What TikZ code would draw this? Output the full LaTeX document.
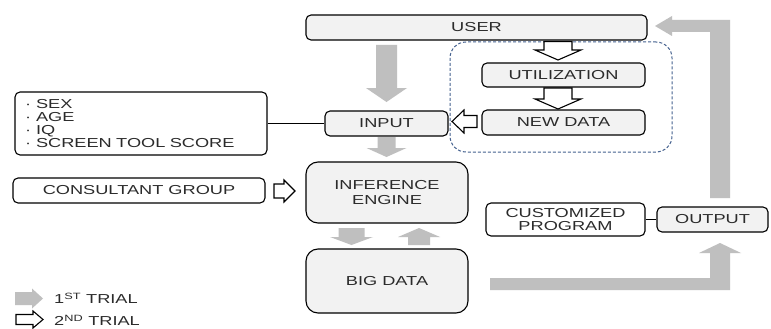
\documentclass[tikz,border=0pt]{standalone}
\usepackage{fontspec}
\setmainfont{Liberation Sans}[FakeStretch=1.4]
\usetikzlibrary{calc}
\definecolor{boxfill}{HTML}{F2F2F2}
\definecolor{arrowgray}{HTML}{BFBFBF}
\definecolor{txt}{HTML}{2B2B2B}
\definecolor{grpblue}{HTML}{45618F}
% #1 style, #2 tail centre, #3 rotation, #4 length, #5 shaft width, #6 head width, #7 head length
\newcommand\blockarrow[7]{%
  \draw[#1,shift={(#2)},rotate=#3] (0,-#5/2) -- (#4-#7,-#5/2) -- (#4-#7,-#6/2) -- (#4,0)
    -- (#4-#7,#6/2) -- (#4-#7,#5/2) -- (0,#5/2) -- cycle;}
\newcommand\bul{·\hspace{5pt}}
\tikzset{
  box/.style={draw=black, line width=1.1pt, rounded corners=5pt, fill=boxfill, text=txt,
    font=\fontsize{13}{14.5}\selectfont, inner sep=0pt, align=center},
  wbox/.style={box, fill=white},
  bigbox/.style={box, rounded corners=12pt},
  garrow/.style={fill=arrowgray, draw=none},
  harrow/.style={fill=white, draw=black, line width=1.1pt, line join=miter},
  grp/.style={draw=grpblue, dash pattern=on 3pt off 2pt, line width=1pt, rounded corners=16pt, fill=none},
  link/.style={draw=black, line width=1.1pt},
  legendtext/.style={text=txt, font=\fontsize{13}{14.5}\selectfont, inner sep=0pt, anchor=west},
}
\begin{document}
\begin{tikzpicture}[x=1pt,y=-1pt]
\useasboundingbox (0,0) rectangle (771,329);
\fill[white] (0,0) rectangle (771,329);

% group region
\node[grp, minimum width=222pt, minimum height=110pt] (group) at (561,97) {};

% boxes
\node[box, minimum width=341pt, minimum height=25pt] (user) at (476.5,27.5) {USER};
\node[box, minimum width=123pt, minimum height=25pt] (input) at (386.5,123.5) {INPUT};
\node[box, minimum width=163pt, minimum height=24pt] (util) at (563.5,75) {UTILIZATION};
\node[box, minimum width=163pt, minimum height=25pt] (newdata) at (563.5,122.5) {NEW DATA};
\node[wbox, minimum width=252pt, minimum height=63pt, align=left, text width=232pt,
      inner xsep=10pt, font=\fontsize{13}{13}\selectfont] (list) at (141,123.5)
  {\bul SEX\\\bul AGE\\\bul IQ\\\bul SCREEN TOOL SCORE};
\node[wbox, minimum width=252pt, minimum height=25pt] (consult) at (139,190.5) {CONSULTANT GROUP};
\node[bigbox, minimum width=162pt, minimum height=61pt, font=\fontsize{13}{15}\selectfont] (infer) at (387,192.5) {INFERENCE\\ENGINE};
\node[bigbox, minimum width=162pt, minimum height=64pt] (bigdata) at (387,281) {BIG DATA};
\node[wbox, minimum width=159pt, minimum height=33pt, font=\fontsize{13}{13.5}\selectfont] (custom) at (565.5,219.5) {CUSTOMIZED\\PROGRAM};
\node[box, minimum width=111pt, minimum height=25pt] (output) at (712.5,219.5) {OUTPUT};

% plain links
\draw[link] (list.east) -- (input.west);
\draw[link] (custom.east) -- (output.west);

% gray (1st trial) arrows
\blockarrow{garrow}{386.5,45}{-90}{57}{21}{41}{14}
\blockarrow{garrow}{386.5,137}{-90}{20}{18}{40}{9}
\blockarrow{garrow}{351.5,228}{-90}{17}{26}{43}{8}
\blockarrow{garrow}{419,245}{90}{17}{22}{42}{9}
\fill[arrowgray] (490,278) -- (710,278) -- (710,253) -- (699,253) -- (720,243) -- (741,253)
  -- (730,253) -- (730,290) -- (490,290) -- cycle;
\fill[arrowgray] (710,198) -- (710,32) -- (672,32) -- (672,36) -- (655,26) -- (672,16)
  -- (672,20) -- (730,20) -- (730,198) -- cycle;

% hollow (2nd trial) arrows
\blockarrow{harrow}{558,41.5}{-90}{18.5}{28}{46}{10}
\blockarrow{harrow}{558,88}{-90}{21}{28}{46}{10}
\blockarrow{harrow}{477,121.5}{180}{25}{12}{23}{12}
\blockarrow{harrow}{274,191}{0}{21}{14}{22}{11}

% legend
\blockarrow{garrow}{15,298.5}{0}{28}{13}{20}{11}
\node[legendtext] (leg1) at (54,298.5) {1\textsuperscript{ST} TRIAL};
\blockarrow{harrow}{16,319.5}{0}{27}{10}{17}{10}
\node[legendtext] (leg2) at (54,320.5) {2\textsuperscript{ND} TRIAL};
\end{tikzpicture}
\end{document}
